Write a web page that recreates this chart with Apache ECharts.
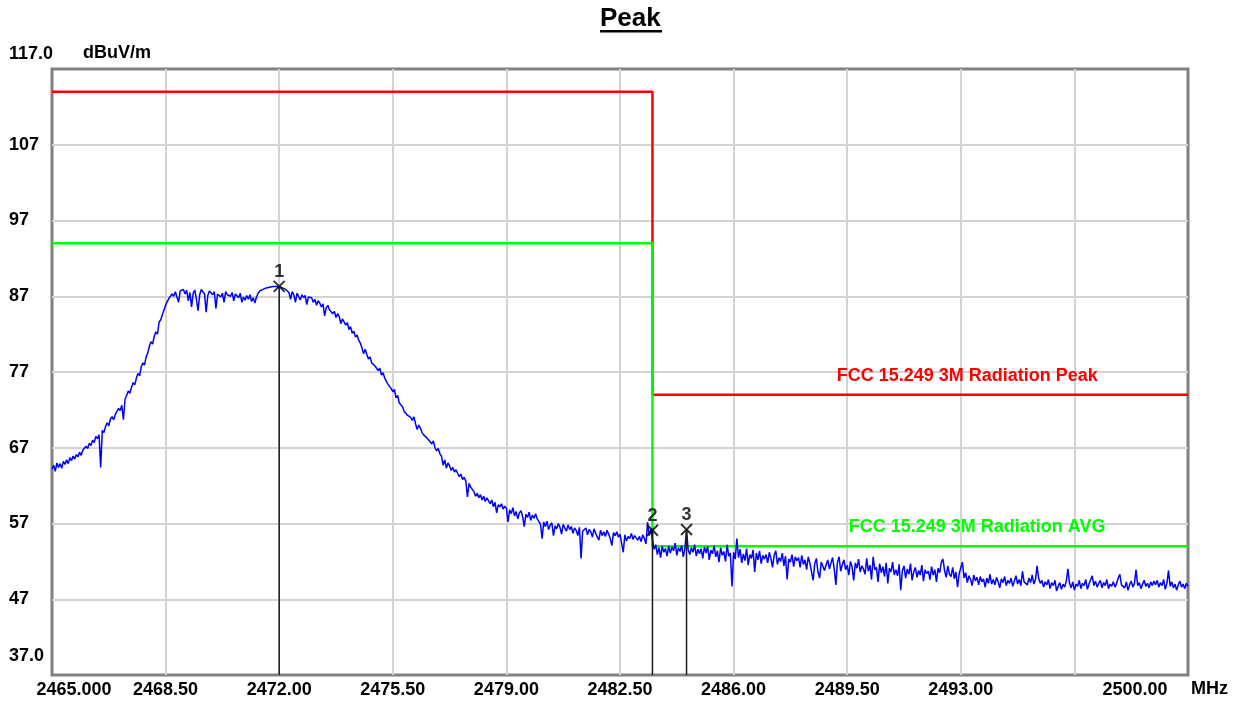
<!DOCTYPE html>
<html><head><meta charset="utf-8">
<script src="https://cdn.jsdelivr.net/npm/echarts@6/dist/echarts.min.js"></script>
<style>html,body{margin:0;padding:0;background:#fff}#c{width:1233px;height:702px}</style>
</head><body><div id="c"></div>
<script>
// ---- data ----
const freqStart = 2465.0;   // MHz, first sweep point
const freqStep = 0.05;      // MHz between sweep points
const traceLevels = [
64.2,64.7,63.9,65.0,64.4,64.9,64.3,65.2,64.8,65.4,64.9,65.7,65.3,65.9,65.5,66.1,65.8,66.4,66.0,66.7,
66.6,67.2,66.9,67.6,67.3,68.0,67.7,68.5,68.2,68.7,64.4,69.3,69.0,69.8,70.3,69.9,70.8,71.1,70.7,71.4,
71.8,72.2,71.9,72.6,70.7,73.4,73.9,74.5,74.2,75.0,75.6,75.3,76.2,76.8,76.5,77.7,78.2,77.9,79.0,79.5,
80.4,81.0,80.7,81.7,82.3,82.0,83.6,83.9,84.6,85.2,85.8,86.3,86.7,86.9,87.3,87.0,87.6,87.4,86.2,87.7,
87.6,87.9,87.3,87.8,86.4,87.5,85.6,87.4,87.8,86.6,85.1,87.2,87.9,87.6,87.3,84.9,87.1,87.7,87.5,87.2,
87.6,85.4,87.3,87.5,86.9,87.4,86.2,87.6,87.2,87.4,87.0,87.5,86.4,87.3,87.1,86.8,87.4,86.2,86.9,86.5,
87.1,86.6,87.2,86.3,86.8,86.1,86.9,87.4,87.7,87.8,87.9,88.0,88.1,88.1,88.2,88.2,88.3,88.3,88.3,88.3,
88.3,88.2,88.1,88.0,87.9,87.8,87.5,86.6,87.6,87.2,86.2,87.4,87.3,86.5,87.2,86.8,87.1,85.9,86.9,86.7,
86.8,86.2,86.6,85.8,86.4,86.1,85.6,86.0,84.4,85.5,85.8,85.2,85.4,84.7,85.0,84.2,84.7,84.3,83.4,84.0,
83.8,83.2,83.5,82.6,83.0,82.1,82.4,81.6,81.9,81.2,80.8,80.2,79.4,80.0,79.3,78.7,79.0,78.2,78.4,77.8,
77.9,77.2,77.5,76.6,76.9,76.2,75.8,75.4,75.6,74.8,74.4,74.7,73.6,73.9,72.9,73.1,72.4,71.8,72.0,71.3,
71.5,71.0,70.6,71.1,70.2,69.4,70.0,69.6,69.0,68.7,68.9,68.3,68.5,67.8,67.5,67.9,67.0,66.6,66.9,66.2,
65.9,64.7,65.4,64.3,65.0,64.6,64.0,64.4,63.8,64.1,63.6,63.2,63.5,62.8,63.1,62.6,60.5,62.3,61.8,62.0,
61.2,60.6,61.0,60.4,60.8,60.1,60.6,59.9,60.4,60.2,59.6,60.1,59.2,59.8,58.4,59.5,59.2,59.6,58.9,59.3,
59.0,57.2,58.8,58.3,59.1,58.0,58.6,57.6,58.4,58.7,57.9,56.6,58.2,57.8,58.5,57.4,58.1,57.7,58.3,57.6,
57.5,56.9,55.0,57.2,56.6,57.3,56.2,56.8,57.1,55.4,56.7,56.3,57.0,56.5,55.6,56.9,56.4,56.0,56.8,56.2,
56.6,55.7,56.4,56.1,55.4,56.5,52.4,56.0,55.8,56.4,55.5,56.2,55.9,55.2,56.3,55.7,55.9,54.8,56.1,55.4,
55.9,55.3,56.1,55.6,55.0,54.1,55.8,55.4,55.9,55.2,55.6,54.4,53.2,55.5,54.7,55.3,55.0,55.7,54.9,55.4,
55.6,54.8,55.3,54.6,55.5,55.0,54.3,57.2,55.4,56.2,56.1,53.6,54.2,52.9,53.8,52.5,54.0,53.2,53.7,52.7,
54.0,53.1,53.9,53.4,54.4,52.8,53.8,53.3,54.1,52.6,53.7,56.2,53.5,52.9,53.8,53.2,54.2,52.7,53.6,53.0,
53.7,52.4,53.9,53.1,54.0,52.2,53.5,53.0,54.1,52.6,53.4,51.9,53.8,52.8,53.3,52.0,54.2,52.7,53.1,48.7,
53.2,52.3,55.0,52.5,53.6,51.8,53.0,52.1,53.7,51.5,52.9,52.4,53.5,50.6,53.1,52.2,53.4,51.7,52.8,52.3,
52.9,51.8,53.2,52.4,51.2,52.8,53.4,51.6,52.5,52.0,53.1,51.4,52.7,49.6,52.3,51.9,52.9,51.3,52.6,52.1,
52.5,51.2,52.8,51.6,52.2,50.9,52.6,51.8,52.0,49.5,51.7,52.4,50.6,49.8,51.9,52.1,50.8,51.5,52.2,51.0,
51.8,52.5,51.0,48.9,51.9,52.6,50.7,51.6,52.2,50.9,51.5,50.2,52.0,51.3,49.5,51.8,51.1,52.3,50.6,51.4,
51.0,50.3,52.4,50.7,51.5,49.6,52.6,50.9,51.2,49.3,51.7,50.5,51.3,50.0,51.8,49.1,51.1,50.6,51.9,50.2,
50.9,50.1,51.6,48.2,50.8,51.4,49.8,51.0,50.3,51.7,49.5,50.6,51.2,49.9,50.8,50.2,51.5,49.4,50.9,50.4,
50.7,49.6,51.3,50.2,50.9,49.3,51.1,50.5,51.9,52.3,50.8,49.9,51.4,50.3,50.0,51.2,49.7,50.6,48.6,50.4,
50.3,51.9,49.8,50.5,49.2,50.1,49.6,48.8,50.2,49.4,49.9,48.9,50.0,49.3,49.7,48.6,49.8,49.1,50.3,49.0,
49.6,48.9,49.9,49.3,48.5,49.7,49.2,50.0,48.8,49.5,49.1,49.8,48.7,49.4,50.1,49.0,49.6,48.8,50.7,49.3,
49.4,48.9,49.8,49.2,50.2,49.0,49.6,51.4,49.7,49.1,49.5,48.6,49.3,48.9,49.6,48.4,49.2,48.8,49.5,48.1,
48.7,49.2,48.3,49.0,48.6,49.4,51.0,49.1,48.5,49.3,48.2,49.0,48.7,49.5,48.4,49.1,48.8,49.6,48.3,49.0,
49.2,50.1,48.8,49.4,48.6,49.1,49.5,48.5,49.2,48.8,49.6,48.4,49.0,48.7,49.3,48.6,49.1,49.8,50.3,48.9,
49.0,48.5,49.3,48.2,48.9,49.4,48.6,49.1,50.9,48.8,49.2,48.4,49.0,49.5,48.7,49.1,48.5,49.3,48.8,49.4,
48.9,49.5,48.6,49.2,48.8,49.6,48.3,49.1,50.8,48.7,49.3,48.5,49.0,48.2,48.9,49.4,48.6,49.0,48.4,49.1,
48.7
];
const xTickValues = [2465.0, 2468.5, 2472.0, 2475.5, 2479.0, 2482.5, 2486.0, 2489.5, 2493.0, 2496.5, 2500.0];
const xTickLabels = ['2465.000','2468.50','2472.00','2475.50','2479.00','2482.50','2486.00','2489.50','2493.00','','2500.00'];
const yTickValues = [37, 47, 57, 67, 77, 87, 97, 107, 117];
const yTickLabels = ['37.0','47','57','67','77','87','97','107','117.0'];
const limitFreqs = [2465.0, 2483.5, 2483.5, 2500.0];
const peakLimitLevels = [114, 114, 74, 74];
const avgLimitLevels = [94, 94, 54, 54];
const limitNames = ['FCC 15.249 3M Radiation Peak', 'FCC 15.249 3M Radiation AVG'];
const markerFreqs = [2472.0, 2483.5, 2484.55];
const markerLevels = [88.3, 56.1, 56.2];
const markerNames = ['1', '2', '3'];

// ---- chart ----
const FONT = '"Liberation Sans", Arial, sans-serif';
const traceData = traceLevels.map((v, i) => [+(freqStart + i * freqStep).toFixed(2), v]);
const yMin = yTickValues[0], yMax = yTickValues[yTickValues.length - 1];
const xMin = xTickValues[0], xMax = xTickValues[xTickValues.length - 1];

function xLabel(v) {
  let idx = xTickValues.findIndex(t => Math.abs(t - v) < 1e-6);
  if (idx < 0) return '';
  const s = xTickLabels[idx];
  if (!s) return '';
  if (idx === 0) return '{first|' + s + '}';
  if (idx === xTickValues.length - 1) return '{last|' + s + '}';
  return s;
}
function yLabel(v) {
  let idx = yTickValues.findIndex(t => Math.abs(t - v) < 1e-6);
  if (idx < 0) return '';
  const s = yTickLabels[idx];
  if (idx === yTickValues.length - 1) return '{top|' + s + '}';
  if (idx === 0) return '{bot|' + s + '}';
  return s;
}
const lblStyle = {fontFamily: FONT, fontWeight: 'bold', fontSize: 18, color: '#000'};

const series = [];
series.push({
  type: 'line', name: limitNames[0], data: limitFreqs.map((f, i) => [f, peakLimitLevels[i]]),
  symbol: 'none', lineStyle: {color: '#ff0000', width: 2.5}, z: 3, silent: true,
  markPoint: {symbol: 'circle', symbolSize: 0, silent: true,
    data: [{coord: [2493.2, peakLimitLevels[3]]}],
    label: {show: true, position: 'top', distance: 10, formatter: limitNames[0],
      fontFamily: FONT, fontWeight: 'bold', fontSize: 18, color: '#ff0000'}}
});
series.push({
  type: 'line', name: limitNames[1], data: limitFreqs.map((f, i) => [f, avgLimitLevels[i]]),
  symbol: 'none', lineStyle: {color: '#00ff00', width: 2.5}, z: 3, silent: true,
  markPoint: {symbol: 'circle', symbolSize: 0, silent: true,
    data: [{coord: [2493.5, avgLimitLevels[3]]}],
    label: {show: true, position: 'top', distance: 10, formatter: limitNames[1],
      fontFamily: FONT, fontWeight: 'bold', fontSize: 18, color: '#00ff00'}}
});
series.push({
  type: 'line', name: 'trace', data: traceData, symbol: 'none',
  lineStyle: {color: '#0000ff', width: 1.5}, z: 4, silent: true
});
markerFreqs.forEach((f, i) => {
  series.push({
    type: 'line', data: [[f, markerLevels[i]], [f, yMin]], symbol: 'none',
    lineStyle: {color: '#1a1a1a', width: 1.5}, z: 5, silent: true
  });
});
series.push({
  type: 'scatter', z: 6, silent: true,
  data: markerFreqs.map((f, i) => ({value: [f, markerLevels[i]], name: markerNames[i]})),
  symbol: 'path://M0,0L10,10M10,0L0,10', symbolSize: 11,
  itemStyle: {color: 'transparent', borderColor: '#000', borderWidth: 2},
  label: {show: true, position: 'top', distance: -1, formatter: p => p.name,
    fontFamily: FONT, fontWeight: 'bold', fontSize: 18, color: '#000'}
});

const option = {
  animation: false,
  backgroundColor: '#fff',
  title: {text: 'Peak', left: 600, top: 6, padding: 0,
    textStyle: {fontFamily: FONT, fontWeight: 'bold', fontSize: 26, color: '#000'}},
  graphic: [{type: 'rect', left: 600, top: 30, shape: {width: 62, height: 2.5}, style: {fill: '#000'}}],
  grid: {left: 52, top: 69, right: 45, bottom: 27, show: true, borderColor: '#808080', borderWidth: 3,
    containLabel: false, outerBoundsMode: 'none'},
  xAxis: {
    type: 'value', min: xMin, max: xMax,
    name: 'MHz', nameLocation: 'end', nameGap: 3,
    nameTextStyle: Object.assign({}, lblStyle, {verticalAlign: 'top', padding: [5, 0, 0, 0]}),
    axisLine: {show: false}, axisTick: {show: false, customValues: xTickValues},
    splitLine: {show: true, showMinLine: false, showMaxLine: false, lineStyle: {color: '#d3d3d3', width: 2}},
    axisLabel: Object.assign({}, lblStyle, {customValues: xTickValues, margin: 6, formatter: xLabel,
      showMinLabel: true, showMaxLabel: true, hideOverlap: false,
      rich: {first: Object.assign({}, lblStyle, {padding: [0, 0, 0, 44]}),
             last: Object.assign({}, lblStyle, {padding: [0, 106, 0, 0]})}})
  },
  yAxis: {
    type: 'value', min: yMin, max: yMax, interval: 10,
    name: 'dBuV/m', nameLocation: 'end', nameGap: 7,
    nameTextStyle: Object.assign({}, lblStyle, {align: 'left', padding: [0, 0, 0, 31]}),
    axisLine: {show: false}, axisTick: {show: false},
    splitLine: {show: true, showMinLine: false, showMaxLine: false, lineStyle: {color: '#d3d3d3', width: 2}},
    axisLabel: Object.assign({}, lblStyle, {align: 'left', margin: 43, formatter: yLabel,
      showMinLabel: true, showMaxLabel: true,
      rich: {top: Object.assign({}, lblStyle, {padding: [0, 0, 30, 0]}),
             bot: Object.assign({}, lblStyle, {padding: [0, 0, 38, 0]})}})
  },
  series: series
};
const chart = echarts.init(document.getElementById('c'), null, {renderer: 'canvas'});
chart.setOption(option);
</script>
</body></html>
